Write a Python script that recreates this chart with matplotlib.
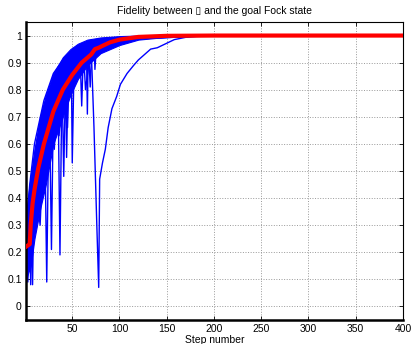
import matplotlib
matplotlib.use("Agg")
import matplotlib.pyplot as plt

plt.rcParams['font.family'] = ['Liberation Sans', 'DejaVu Sans']

# mean fidelity (red)
mean_steps = [1, 3, 5, 6, 8, 10, 14, 20, 30, 40, 50, 60, 70, 74, 78, 82, 90, 100, 120, 150, 200, 400]
mean_fid = [0.22, 0.225, 0.23, 0.30, 0.38, 0.43, 0.51, 0.60, 0.72, 0.80, 0.855, 0.90, 0.93, 0.95, 0.955,
            0.962, 0.975, 0.985, 0.995, 0.999, 1.0, 1.0]

# dense bundle of runs (upper / lower edge)
band_steps = [1, 3, 6, 10, 16, 22, 30, 40, 48, 56, 66, 80, 100, 120, 150, 200, 400]
band_upper = [0.33, 0.40, 0.48, 0.58, 0.70, 0.78, 0.86, 0.92, 0.95, 0.97, 0.985, 0.993, 0.998, 1.0, 1.0, 1.0, 1.0]
band_lower = [0.10, 0.12, 0.15, 0.25, 0.36, 0.45, 0.60, 0.70, 0.78, 0.84, 0.89, 0.935, 0.965, 0.985, 0.995, 1.0, 1.0]

# individual runs that stray out of the bundle
run_a_steps = [1, 3, 6, 10, 15, 20, 30, 40, 50, 60, 70, 73, 76, 78, 79, 82, 85, 88, 92, 97, 101, 108, 115,
               120, 133, 140, 158, 175, 193, 250, 400]
run_a_fid = [0.2, 0.3, 0.42, 0.55, 0.66, 0.74, 0.83, 0.89, 0.93, 0.95, 0.96, 0.66, 0.3, 0.07, 0.47, 0.53,
             0.58, 0.66, 0.73, 0.775, 0.82, 0.86, 0.89, 0.91, 0.95, 0.955, 0.985, 0.997, 1.0, 1.0, 1.0]

run_b_steps = [1, 4, 7, 8, 9, 11, 14, 18, 21, 23, 25, 30, 40, 60, 100, 200, 400]
run_b_fid = [0.15, 0.25, 0.35, 0.08, 0.30, 0.40, 0.50, 0.58, 0.62, 0.09, 0.65, 0.72, 0.82, 0.92, 0.985, 1.0, 1.0]

run_c_steps = [1, 3, 5, 6, 8, 12, 20, 26, 28, 30, 35, 37, 39, 45, 60, 100, 200, 400]
run_c_fid = [0.18, 0.09, 0.28, 0.08, 0.33, 0.45, 0.62, 0.70, 0.21, 0.74, 0.79, 0.19, 0.81, 0.86, 0.92, 0.985, 1.0, 1.0]

run_d_steps = [1, 5, 10, 20, 30, 39, 41, 43, 44, 46, 49, 50, 52, 60, 80, 120, 200, 400]
run_d_fid = [0.25, 0.40, 0.52, 0.68, 0.80, 0.87, 0.48, 0.88, 0.55, 0.89, 0.90, 0.53, 0.91, 0.94, 0.98, 0.995, 1.0, 1.0]

run_e_steps = [1, 5, 10, 20, 30, 40, 50, 58, 60, 62, 65, 66, 67, 69, 71, 73, 74, 76, 90, 130, 200, 400]
run_e_fid = [0.28, 0.45, 0.60, 0.76, 0.86, 0.91, 0.94, 0.96, 0.74, 0.96, 0.965, 0.71, 0.97, 0.81, 0.975,
             0.98, 0.875, 0.985, 0.99, 0.998, 1.0, 1.0]

run_f_steps = [1, 4, 8, 12, 16, 19, 22, 28, 31, 34, 36, 42, 45, 47, 55, 62, 64, 70, 100, 200, 400]
run_f_fid = [0.12, 0.22, 0.30, 0.42, 0.30, 0.55, 0.62, 0.70, 0.58, 0.78, 0.63, 0.86, 0.66, 0.89, 0.92, 0.94,
             0.80, 0.96, 0.99, 1.0, 1.0]

runs = [(run_a_steps, run_a_fid), (run_b_steps, run_b_fid), (run_c_steps, run_c_fid),
        (run_d_steps, run_d_fid), (run_e_steps, run_e_fid), (run_f_steps, run_f_fid)]

x_ticks = [50, 100, 150, 200, 250, 300, 350, 400]
y_ticks = [0, 0.1, 0.2, 0.3, 0.4, 0.5, 0.6, 0.7, 0.8, 0.9, 1]
y_tick_labels = ['0', '0.1', '0.2', '0.3', '0.4', '0.5', '0.6', '0.7', '0.8', '0.9', '1']

fig = plt.figure(figsize=(4.12, 3.44), dpi=100)
ax = fig.add_axes([0.063, 0.070, 0.915, 0.866])

ax.fill_between(band_steps, band_lower, band_upper, color='blue', lw=0.8, zorder=2)
for s, f in runs:
    ax.plot(s, f, color='blue', lw=1.0, zorder=2)
ax.plot(mean_steps, mean_fid, color='red', lw=3, zorder=3)

ax.set_xlim(1, 400)
ax.set_ylim(-0.05, 1.05)
ax.set_xticks(x_ticks)
ax.set_yticks(y_ticks)
ax.set_yticklabels(y_tick_labels)
ax.tick_params(direction='in', top=True, right=True, labelsize=7.5, length=3, width=0.6, pad=3)
ax.grid(True, linestyle=':', color='#999999', linewidth=0.7)
ax.set_axisbelow(True)
for side in ['left', 'bottom']:
    ax.spines[side].set_linewidth(1.8)
for side in ['top', 'right']:
    ax.spines[side].set_linewidth(0.8)

ax.set_title('Fidelity between \u25af and the goal Fock state', fontsize=7.5, pad=6)
ax.set_xlabel('Step number', fontsize=7.5, labelpad=1)

fig.savefig('out.png', dpi=100)
